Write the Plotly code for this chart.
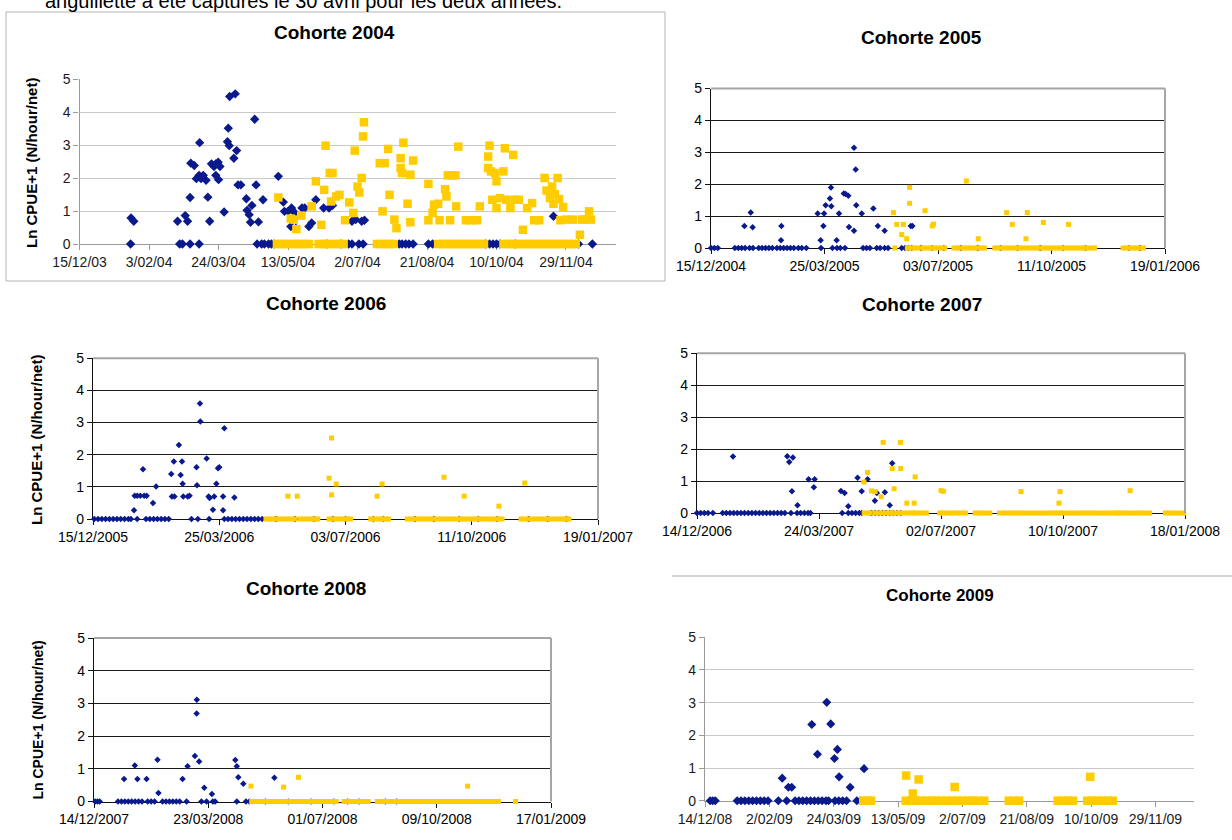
import pandas as pd
import plotly.graph_objects as go

# ---------------------------------------------------------------------------
# Data: Ln(CPUE+1) per sampling day, two series per cohort.
# Days are counted from the first date of each cohort's time axis.
# ---------------------------------------------------------------------------

# ---- Cohorte 2004 ----
c2004_start = "2003-12-15"
c2004_span = 386
c2004_ticks = ["15/12/03", "3/02/04", "24/03/04", "13/05/04", "2/07/04",
               "21/08/04", "10/10/04", "29/11/04"]
c2004_blue_zero = [36.7, 72, 74, 79.5, 86, 127.7, 131, 133, 136, 138, 140, 178, 188,
                   193.6, 196, 201, 204, 230, 232, 234.6, 237, 240, 251, 254, 292, 295,
                   297.5, 300, 302.5, 313.6, 359, 369]
c2004_blue_day = [37, 39, 70.5, 76, 77.7, 79.5, 80, 82.5, 84, 86, 86.4, 87.4, 89, 91,
                  92.3, 93.6, 94.9, 96.7, 98, 98, 99.7, 100, 101, 104, 106.4, 107,
                  107.7, 108, 111, 112, 113, 114, 116, 120, 120.5, 122, 123, 124, 126,
                  127, 128.7, 132, 143, 146.6, 147.4, 150, 152, 152.5, 155, 155.6, 160,
                  162, 165, 167, 170, 175.6, 179.5, 182, 196, 198.7, 203, 205, 341]
c2004_blue_val = [0.79, 0.69, 0.69, 0.86, 0.69, 1.41, 2.45, 2.38, 1.98, 2.08, 3.07, 1.98,
                  2.08, 1.93, 1.42, 0.69, 2.43, 2.35, 2.43, 2.08, 2.48, 1.95, 2.35, 0.97,
                  3.10, 3.51, 2.98, 4.47, 2.60, 4.55, 2.83, 1.79, 1.79, 1.37, 1.02, 0.89,
                  0.66, 1.17, 3.78, 1.79, 0.67, 1.34, 2.05, 1.27, 0.99, 0.99, 0.53, 1.09,
                  0.94, 0.48, 1.09, 1.09, 0.53, 0.64, 1.34, 1.09, 1.09, 1.17, 0.69, 0.74,
                  0.69, 0.72, 0.84]
c2004_yellow_zero = [142, 145, 148, 151, 154, 157, 160, 163, 165, 172, 175, 177, 181, 184,
                     187, 190, 214, 217, 220, 223, 226, 258, 261, 264, 267, 270, 273, 276,
                     279, 282, 285, 288, 291, 305, 308, 311, 313, 315, 318, 321, 324, 327,
                     330, 333, 336, 339, 342, 345, 348, 351, 354, 357]
c2004_yellow_day = [143, 152, 154, 156, 159.5, 167, 170, 174, 176, 177, 180, 181, 182,
                    184.6, 187, 191, 194, 197, 198, 200, 201.3, 203, 204, 204.6, 216, 218,
                    219.5, 222, 223, 226.5, 228, 231, 231, 232, 233, 236, 238, 238, 240,
                    251, 251, 254, 255, 258, 259, 263, 264, 265, 266.6, 268, 270.5, 271,
                    272.5, 278, 282, 286, 288, 294, 294, 295, 296, 297, 299, 300, 300,
                    302.5, 305, 306, 307, 310, 312, 313, 316, 319, 322, 325.6, 327, 330.7,
                    334.6, 336, 338.5, 340, 341, 342, 344, 345, 346, 348, 350, 355, 360,
                    361.5, 364, 366.6, 368]
c2004_yellow_val = [1.41, 0.77, 0.74, 0.45, 0.86, 1.14, 1.90, 0.58, 1.64, 2.98, 2.15, 1.29,
                    2.15, 1.44, 1.49, 0.72, 1.26, 0.94, 2.83, 1.74, 1.56, 2.00, 3.26, 3.69,
                    2.45, 0.99, 2.45, 2.88, 1.49, 0.74, 0.48, 2.60, 2.30, 2.15, 3.07, 1.22,
                    0.66, 2.10, 2.53, 1.82, 0.72, 0.94, 1.19, 1.22, 0.72, 1.66, 1.44, 2.08,
                    0.72, 2.08, 2.08, 1.14, 2.95, 0.72, 0.72, 0.72, 1.14, 2.30, 2.65, 2.98,
                    2.20, 1.34, 2.15, 1.90, 1.09, 1.39, 2.20, 2.90, 1.34, 1.09, 2.70, 1.34,
                    1.34, 0.43, 1.09, 1.24, 0.72, 0.72, 2.00, 1.62, 1.39, 1.74, 1.22, 1.51,
                    2.00, 1.36, 0.72, 1.12, 0.74, 0.74, 0.28, 0.74, 0.74, 0.99, 0.74]

# ---- Cohorte 2005 ----
c2005_start = "2004-12-15"
c2005_span = 400
c2005_ticks = ["15/12/2004", "25/03/2005", "03/07/2005", "11/10/2005", "19/01/2006"]
c2005_blue_zero = [0, 3, 6, 21, 24, 27, 30, 34, 37, 42, 45, 48, 51, 54, 58, 61, 64, 67,
                   70, 73, 77, 80, 84, 97, 107, 111, 114, 118, 134, 137, 140, 146, 149,
                   153, 156, 168, 171, 174, 177, 185, 195, 205, 220, 235, 255, 270, 290,
                   310, 330, 368, 378]
c2005_blue_day = [29.4, 35, 36.7, 61.7, 62, 94, 96.6, 99, 99.6, 101, 104.8, 105.7, 106,
                  110.7, 112.8, 117, 118.7, 121, 121.6, 126, 126, 127.5, 128, 132.8, 143,
                  147, 153, 176, 177.4]
c2005_blue_val = [0.69, 1.11, 0.65, 0.24, 0.69, 1.08, 0.24, 0.69, 1.08, 1.34, 1.55, 1.90,
                  1.31, 0.24, 1.08, 1.71, 1.69, 1.64, 0.66, 0.54, 3.14, 2.46, 1.34, 1.08,
                  1.24, 0.69, 0.54, 0.69, 0.69]
c2005_yellow_zero = [162, 173, 176, 179, 182, 185, 188, 191, 194, 197, 200, 203, 206, 214,
                     217, 220, 223, 226, 229, 232, 235, 238, 241, 250, 253, 256, 259, 263,
                     266, 269, 272, 275, 278, 281, 284, 287, 290, 293, 296, 299, 302, 305,
                     308, 311, 314, 317, 320, 323, 326, 329, 332, 335, 338, 363, 366, 369,
                     372, 375, 378, 381]
c2005_yellow_day = [160.7, 163.6, 168, 169.5, 172.4, 175, 175, 188.6, 195, 196, 225,
                    235.5, 260.5, 265.5, 277.5, 278.7, 292.8, 315]
c2005_yellow_val = [1.11, 0.74, 0.42, 0.74, 0.29, 1.90, 1.40, 1.17, 0.69, 0.75, 2.10,
                    0.29, 1.11, 0.74, 0.29, 1.11, 0.80, 0.74]

# ---- Cohorte 2006 ----
c2006_start = "2005-12-15"
c2006_span = 400
c2006_ticks = ["15/12/2005", "25/03/2006", "03/07/2006", "11/10/2006", "19/01/2007"]
c2006_blue_zero = [1, 4, 7, 10, 13, 16, 19, 22, 25, 28, 30, 35, 42, 45, 48, 51, 54, 57,
                   60, 78, 83, 92, 104, 107, 110, 113, 116, 119, 122, 125, 128, 131, 134,
                   145, 160, 175, 190, 200, 222, 230, 255, 270, 290, 305, 320, 345, 360,
                   375]
c2006_blue_day = [32.5, 33, 35, 37.5, 39.6, 40.5, 42.5, 47.5, 50, 62, 62.5, 64, 64.5, 68,
                  69.4, 70.5, 71, 71.5, 75, 76.5, 82, 82.4, 84.7, 85, 90, 91.6, 92.4, 95,
                  96, 97.7, 99, 100, 103, 103, 104, 112]
c2006_blue_val = [0.27, 0.72, 0.72, 0.72, 1.55, 0.72, 0.72, 0.50, 1.01, 1.40, 0.70, 1.79,
                  0.70, 2.30, 1.37, 1.79, 1.10, 0.70, 0.70, 0.72, 1.61, 1.05, 3.59, 3.03,
                  1.88, 0.70, 0.65, 0.29, 0.70, 1.10, 1.58, 1.61, 0.70, 0.27, 2.82, 0.67]
c2006_yellow_zero = [137, 140, 142, 145, 148, 151, 154, 157, 160, 164, 167, 170, 173, 176,
                     178, 187, 190, 192, 195, 198, 201, 204, 220, 223, 226, 229, 232, 234,
                     249, 252, 255, 258, 261, 264, 267, 270, 273, 276, 279, 282, 285, 288,
                     291, 294, 297, 300, 303, 306, 309, 312, 315, 318, 321, 324, 339, 342,
                     345, 348, 351, 354, 357, 360, 363, 366, 369, 372, 375, 377]
c2006_yellow_day = [154.4, 161.8, 187, 189, 189, 192.7, 225, 229, 278, 294, 321.5, 342]
c2006_yellow_val = [0.71, 0.71, 1.27, 2.52, 0.75, 1.09, 0.71, 1.09, 1.30, 0.71, 0.40, 1.12]

# ---- Cohorte 2007 ----
c2007_start = "2006-12-14"
c2007_span = 400
c2007_ticks = ["14/12/2006", "24/03/2007", "02/07/2007", "10/10/2007", "18/01/2008"]
c2007_blue_zero = [0, 3, 6, 9, 13, 21, 24, 27, 30, 33, 36, 39, 42, 45, 48, 51, 54, 57, 60,
                   63, 66, 69, 72, 77, 82, 85, 88, 91, 93, 119, 124, 127, 130, 133, 135,
                   143, 146, 149, 152, 155, 158, 161, 164, 167]
c2007_blue_day = [29.5, 74, 75.6, 77.8, 78.6, 82.4, 91.5, 95.8, 96.4, 118, 121, 124,
                  131.6, 135, 139.8, 145.8, 147.4, 154, 158, 160]
c2007_blue_val = [1.77, 1.78, 1.60, 0.68, 1.74, 0.24, 1.06, 0.81, 1.06, 0.69, 0.63, 0.21,
                  1.10, 0.68, 1.06, 0.38, 0.63, 0.65, 0.24, 1.56]
c2007_yellow_zero = [137, 140, 142, 146, 149, 152, 155, 158, 160, 163, 166, 169, 172, 175,
                     177, 179, 182, 185, 188, 199, 202, 205, 208, 211, 214, 217, 220, 228,
                     231, 234, 237, 240, 248, 251, 254, 257, 260, 263, 266, 269, 272, 275,
                     278, 281, 284, 287, 290, 293, 296, 298, 301, 304, 307, 310, 313, 316,
                     319, 322, 325, 328, 331, 334, 337, 340, 343, 345, 347, 350, 353, 356,
                     359, 362, 365, 368, 371, 384, 387, 390, 393, 396, 399]
c2007_yellow_day = [136.8, 139.8, 143, 146, 151, 152.6, 160, 161.6, 166.8, 167, 172, 178,
                    178.8, 200, 202, 265.6, 296.7, 297.6, 355]
c2007_yellow_val = [0.97, 1.27, 0.69, 0.67, 0.51, 2.21, 1.39, 0.76, 2.21, 1.39, 0.31,
                    0.31, 1.13, 0.70, 0.68, 0.67, 0.31, 0.67, 0.70]

# ---- Cohorte 2008 ----
c2008_start = "2007-12-14"
c2008_span = 400
c2008_ticks = ["14/12/2007", "23/03/2008", "01/07/2008", "09/10/2008", "17/01/2009"]
c2008_blue_zero = [1, 3, 5, 21, 24, 27, 30, 33, 36, 39, 42, 47, 50, 53, 60, 63, 66, 69,
                   72, 75, 81, 94, 98.5, 104, 106, 125, 133, 136, 150, 170, 190, 210,
                   222, 232, 255, 265]
c2008_blue_day = [26.3, 35.7, 38, 46, 55.6, 56.4, 77.5, 81.9, 88.3, 89.8, 90, 92, 96.5,
                  103.2, 123.7, 125, 126.3, 130.7, 157.9]
c2008_blue_val = [0.69, 1.10, 0.69, 0.69, 1.28, 0.26, 0.69, 1.08, 1.39, 2.69, 3.11, 1.22,
                  0.42, 0.23, 1.27, 1.08, 0.74, 0.54, 0.73]
c2008_yellow_zero = [138, 141, 144, 147, 150, 153, 156, 159, 162, 165, 168, 171, 174, 177,
                     180, 183, 186, 189, 192, 195, 198, 201, 204, 207, 210, 212, 219, 222,
                     225, 228, 231, 234, 237, 240, 248, 251, 254, 257, 260, 263, 266, 269,
                     272, 275, 278, 281, 284, 287, 290, 293, 296, 299, 302, 305, 308, 311,
                     314, 317, 320, 323, 326, 329, 332, 335, 338, 341, 344, 347, 350, 353,
                     354, 369]
c2008_yellow_day = [137.4, 166, 179, 327]
c2008_yellow_val = [0.47, 0.44, 0.74, 0.47]

# ---- Cohorte 2009 ----
c2009_start = "2008-12-14"
c2009_span = 380
c2009_ticks = ["14/12/08", "2/02/09", "24/03/09", "13/05/09", "2/07/09",
               "21/08/09", "10/10/09", "29/11/09"]
c2009_blue_zero = [4, 6, 8, 25, 28, 31, 34, 37, 40, 43, 46, 49, 57, 63.5, 70, 73, 76, 79,
                   82, 85, 88, 91, 94, 96, 101, 104, 107, 110, 118, 121]
c2009_blue_day = [60, 64.8, 67.4, 83, 87.4, 94.6, 97.7, 100.6, 102.9, 104.2, 112.8, 123.6]
c2009_blue_val = [0.69, 0.41, 0.41, 2.33, 1.42, 3.01, 2.35, 1.29, 1.57, 0.73, 0.41, 0.98]
c2009_yellow_zero = [123, 126, 129, 156, 160, 164, 168, 172, 176, 180, 184, 188, 192, 196,
                     200, 204, 208, 212, 217, 236, 240, 244, 274, 278, 282, 286, 297, 301,
                     305, 309, 313, 317]
c2009_yellow_day = [156.3, 161.5, 166, 194, 299.4]
c2009_yellow_val = [0.77, 0.22, 0.65, 0.42, 0.73]

y_ticks = [0, 1, 2, 3, 4, 5]
y_title = "Ln CPUE+1 (N/hour/net)"
caption = "anguillette a été capturés le 30 avril pour les deux années."

# ---------------------------------------------------------------------------
# Layout helpers (pixel geometry of the 1232 x 840 page)
# ---------------------------------------------------------------------------
W, H = 1232, 840
BLUE = "#0a1a8c"
YELLOW = "#ffcc00"
FONT = "Arial, Liberation Sans, sans-serif"


def fx(px):
    return px / W


def fy(py):
    return 1 - py / H


cohorts = [
    dict(name="Cohorte 2004", start=c2004_start, span=c2004_span, ticks=c2004_ticks,
         fmt="%d/%m/%y", bz=c2004_blue_zero, bd=c2004_blue_day, bv=c2004_blue_val,
         yz=c2004_yellow_zero, yd=c2004_yellow_day, yv=c2004_yellow_val,
         box=(79.6, 616, 79, 244), soft=True, dsize=7.2, ssize=8.5,
         title=(334, 33, 19), ytitle=(32, 163, 15)),
    dict(name="Cohorte 2005", start=c2005_start, span=c2005_span, ticks=c2005_ticks,
         fmt="%d/%m/%Y", bz=c2005_blue_zero, bd=c2005_blue_day, bv=c2005_blue_val,
         yz=c2005_yellow_zero, yd=c2005_yellow_day, yv=c2005_yellow_val,
         box=(711, 1165, 88.5, 248), soft=False, dsize=5, ssize=5,
         title=(921, 38, 19), ytitle=None),
    dict(name="Cohorte 2006", start=c2006_start, span=c2006_span, ticks=c2006_ticks,
         fmt="%d/%m/%Y", bz=c2006_blue_zero, bd=c2006_blue_day, bv=c2006_blue_val,
         yz=c2006_yellow_zero, yd=c2006_yellow_day, yv=c2006_yellow_val,
         box=(93, 598, 358.3, 519), soft=False, dsize=5, ssize=5,
         title=(326, 303, 19), ytitle=(36, 440, 15)),
    dict(name="Cohorte 2007", start=c2007_start, span=c2007_span, ticks=c2007_ticks,
         fmt="%d/%m/%Y", bz=c2007_blue_zero, bd=c2007_blue_day, bv=c2007_blue_val,
         yz=c2007_yellow_zero, yd=c2007_yellow_day, yv=c2007_yellow_val,
         box=(697, 1185, 353.3, 513), soft=False, dsize=5, ssize=5,
         title=(922, 304, 19), ytitle=None),
    dict(name="Cohorte 2008", start=c2008_start, span=c2008_span, ticks=c2008_ticks,
         fmt="%d/%m/%Y", bz=c2008_blue_zero, bd=c2008_blue_day, bv=c2008_blue_val,
         yz=c2008_yellow_zero, yd=c2008_yellow_day, yv=c2008_yellow_val,
         box=(94, 551, 638, 801.5), soft=False, dsize=5, ssize=5,
         title=(306, 588, 19), ytitle=(37.5, 720, 14)),
    dict(name="Cohorte 2009", start=c2009_start, span=c2009_span, ticks=c2009_ticks,
         fmt="%d/%m/%y", bz=c2009_blue_zero, bd=c2009_blue_day, bv=c2009_blue_val,
         yz=c2009_yellow_zero, yd=c2009_yellow_day, yv=c2009_yellow_val,
         box=(705, 1194, 637.3, 800.7), soft=True, dsize=7, ssize=8.5,
         title=(940, 595, 17), ytitle=None),
]


def to_dates(start, days):
    return pd.Timestamp(start) + pd.to_timedelta(pd.Series(days, dtype=float), unit="D")


fig = go.Figure()
layout = {}
annotations = []
shapes = []

for i, c in enumerate(cohorts, start=1):
    xs = "x" if i == 1 else f"x{i}"
    ys = "y" if i == 1 else f"y{i}"
    x0, x1, ytop, ybot = c["box"]

    blue_x = to_dates(c["start"], c["bz"] + c["bd"])
    blue_y = [0] * len(c["bz"]) + c["bv"]
    yel_x = to_dates(c["start"], c["yz"] + c["yd"])
    yel_y = [0] * len(c["yz"]) + c["yv"]

    fig.add_trace(go.Scatter(
        x=blue_x, y=blue_y, mode="markers", name="Série 1", showlegend=False,
        marker=dict(symbol="diamond", size=c["dsize"], color=BLUE, line=dict(width=0)),
        xaxis=xs, yaxis=ys, cliponaxis=False, hoverinfo="x+y"))
    fig.add_trace(go.Scatter(
        x=yel_x, y=yel_y, mode="markers", name="Série 2", showlegend=False,
        marker=dict(symbol="square", size=c["ssize"], color=YELLOW, line=dict(width=0)),
        xaxis=xs, yaxis=ys, cliponaxis=False, hoverinfo="x+y"))

    start = pd.Timestamp(c["start"])
    end = start + pd.Timedelta(days=c["span"])
    tickvals = [pd.to_datetime(t, format=c["fmt"]).strftime("%Y-%m-%d") for t in c["ticks"]]

    if c["soft"]:
        axis_col, grid_col, grid_w, tick_col, text_col = "#9a9a9a", "#c9c9c9", 1, "#9a9a9a", "#1a1a1a"
    else:
        axis_col, grid_col, grid_w, tick_col, text_col = "#111111", "#1a1a1a", 1.1, "#111111", "#000000"

    layout["xaxis" if i == 1 else f"xaxis{i}"] = dict(
        type="date", domain=[fx(x0), fx(x1)], anchor=ys,
        range=[start.strftime("%Y-%m-%d"), end.strftime("%Y-%m-%d")],
        tickmode="array", tickvals=tickvals, ticktext=c["ticks"],
        ticks="outside", ticklen=5, tickcolor=tick_col, tickwidth=1,
        showline=True, linecolor=axis_col, linewidth=1.3,
        showgrid=False, zeroline=False, layer="below traces", automargin=False,
        tickfont=dict(family=FONT, size=14, color=text_col), fixedrange=True)
    layout["yaxis" if i == 1 else f"yaxis{i}"] = dict(
        domain=[fy(ybot), fy(ytop)], anchor=xs, range=[0, 5],
        tickmode="array", tickvals=y_ticks,
        ticks="outside", ticklen=5, tickcolor=tick_col, tickwidth=1,
        showline=True, linecolor=axis_col, linewidth=1.3,
        showgrid=True, gridcolor=grid_col, gridwidth=grid_w,
        zeroline=False, layer="below traces", automargin=False,
        tickfont=dict(family=FONT, size=14, color=text_col), fixedrange=True)

    if not c["soft"]:
        # grey plot-area frame along the top and right
        shapes.append(dict(type="line", xref=f"{xs} domain", yref=f"{ys} domain",
                           x0=0, x1=1, y0=1, y1=1, line=dict(color="#a6a6a6", width=2)))
        shapes.append(dict(type="line", xref=f"{xs} domain", yref=f"{ys} domain",
                           x0=1, x1=1, y0=0, y1=1, line=dict(color="#a6a6a6", width=2)))

    tx, ty, tsize = c["title"]
    annotations.append(dict(text=f"<b>{c['name']}</b>", x=fx(tx), y=fy(ty),
                            xref="paper", yref="paper", xanchor="center", yanchor="middle",
                            showarrow=False,
                            font=dict(family=FONT, size=tsize, color="#000000")))
    if c["ytitle"] is not None:
        ax, ay, asize = c["ytitle"]
        annotations.append(dict(text=f"<b>{y_title}</b>", x=fx(ax), y=fy(ay),
                                xref="paper", yref="paper", xanchor="center",
                                yanchor="middle", textangle=-90, showarrow=False,
                                font=dict(family=FONT, size=asize, color="#000000")))

# Running text above the figures, continuing from the previous page area
annotations.append(dict(text=caption, x=fx(43), y=fy(1), xref="paper", yref="paper",
                        xanchor="left", yanchor="middle", showarrow=False,
                        font=dict(family=FONT, size=20, color="#000000")))

# Frame around the 2004 chart and the rule above the 2009 chart
shapes.append(dict(type="rect", xref="paper", yref="paper",
                   x0=fx(6), x1=fx(665), y0=fy(281), y1=fy(12),
                   line=dict(color="#b4b4b4", width=1), layer="below"))
shapes.append(dict(type="line", xref="paper", yref="paper",
                   x0=fx(672), x1=fx(1232), y0=fy(576), y1=fy(576),
                   line=dict(color="#c4c4c4", width=1.5), layer="below"))

fig.update_layout(
    width=W, height=H, autosize=False,
    margin=dict(l=0, r=0, t=0, b=0, pad=0, autoexpand=False),
    paper_bgcolor="white", plot_bgcolor="white",
    showlegend=False, annotations=annotations, shapes=shapes,
    **layout)

fig.write_html("out.html")
